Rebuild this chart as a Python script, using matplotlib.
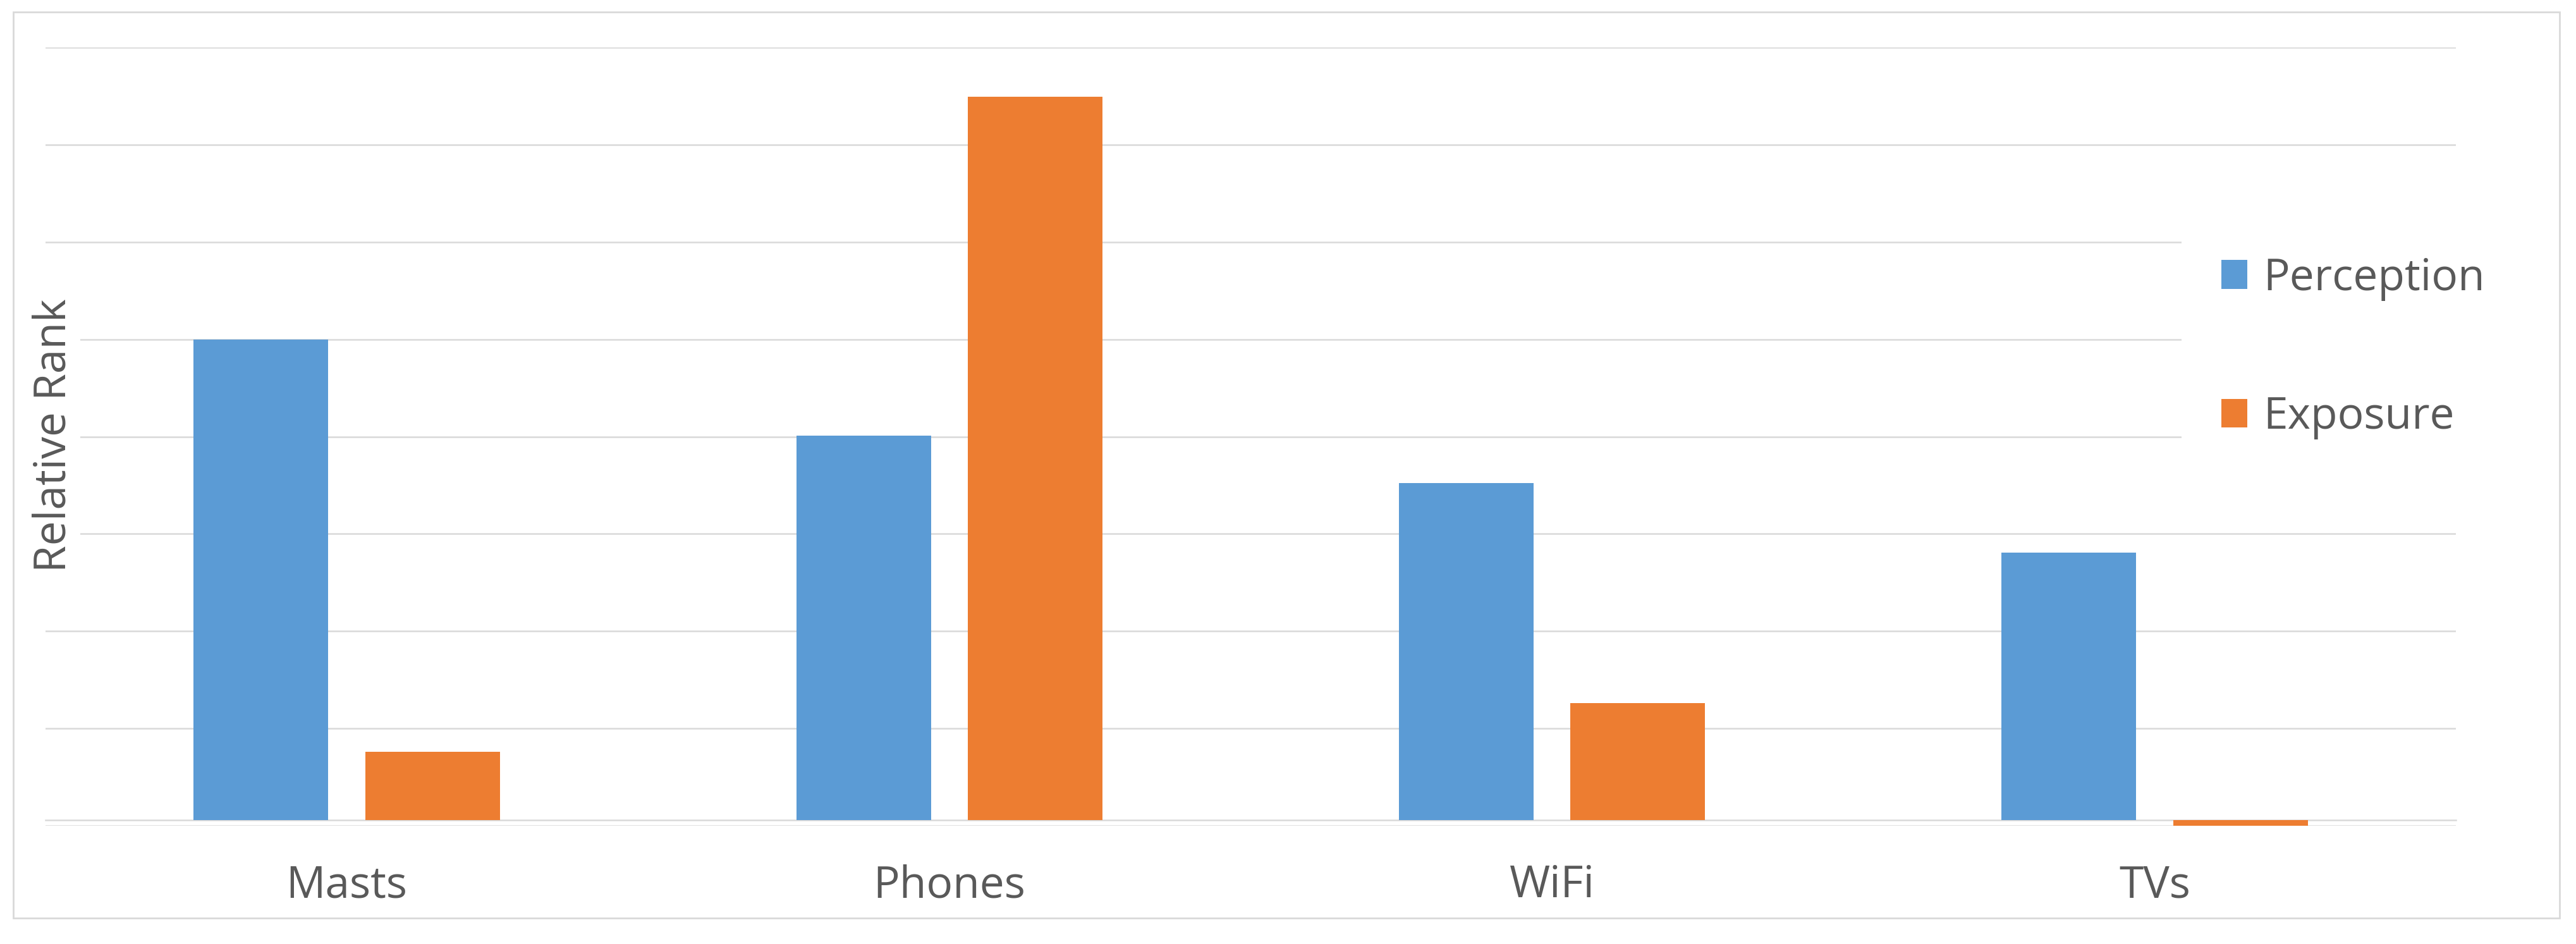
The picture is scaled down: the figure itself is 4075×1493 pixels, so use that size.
import numpy as np
import matplotlib
matplotlib.use("Agg")
import matplotlib.pyplot as plt
from matplotlib.patches import Rectangle

categories = ["Masts", "Phones", "WiFi", "TVs"]
perception = [4.94, 3.95, 3.46, 2.75]
exposure = [0.70, 7.43, 1.20, -0.06]
series_names = ["Perception", "Exposure"]

BLUE = "#5B9BD5"
ORANGE = "#ED7D31"
GRID = "#D9D9D9"
TEXT = "#595959"

plt.rcParams["font.family"] = ["Open Sans", "DejaVu Sans"]

W, H, DPI = 4075, 1493, 200
fig = plt.figure(figsize=(W / DPI, H / DPI), dpi=DPI)
fig.patch.set_facecolor("white")

# plot area in pixels: x 72..3885, y 75..1306
ax = fig.add_axes([72 / W, 1 - 1306 / H, (3885 - 72) / W, (1306 - 75) / H])

x = np.arange(len(categories))
width = 0.2235
offset = 0.1425
ax.bar(x - offset, perception, width=width, color=BLUE, label=series_names[0], zorder=3)
ax.bar(x + offset, exposure, width=width, color=ORANGE, label=series_names[1], zorder=3)

for side in ["top", "left", "right"]:
    ax.spines[side].set_visible(False)
ax.spines["bottom"].set_position(("data", 0))
ax.spines["bottom"].set_color(GRID)
ax.spines["bottom"].set_linewidth(0.9)
ax.spines["bottom"].set_zorder(2)

y_min = -0.06
ax.set_xlim(-0.5, len(categories) - 0.5)
ax.set_ylim(y_min, y_min + 8)
ax.set_yticks(np.arange(9) + y_min)
ax.set_yticklabels([])
ax.tick_params(axis="y", length=0)
ax.grid(axis="y", color=GRID, linewidth=0.9, zorder=0)
ax.set_axisbelow(True)

ax.set_xticks(x)
ax.set_xticklabels(categories)
ax.tick_params(axis="x", length=0, pad=25, labelsize=25, labelcolor=TEXT)

leg = ax.legend(
    loc="upper left",
    bbox_to_anchor=(3451 / W, 1 - 343 / H),
    bbox_transform=fig.transFigure,
    fontsize=25,
    frameon=True,
    fancybox=False,
    borderpad=0.9,
    handlelength=0.6,
    handleheight=0.63,
    handletextpad=0.36,
    labelspacing=2.15,
    borderaxespad=0,
)
leg.get_frame().set_facecolor("white")
leg.get_frame().set_edgecolor("none")
leg.get_frame().set_alpha(1)
for t in leg.get_texts():
    t.set_color(TEXT)

fig.text(86 / W, 1 - 689 / H, "Relative Rank", rotation=90, fontsize=25,
         color=TEXT, ha="center", va="center",
         bbox=dict(facecolor="white", edgecolor="none", pad=2))

fig.patches.append(Rectangle((21 / W, 1 - 1452 / H), (4049 - 21) / W, (1452 - 19) / H,
                             transform=fig.transFigure, fill=False,
                             edgecolor=GRID, linewidth=1.0))

fig.savefig("out.png", dpi=DPI)
